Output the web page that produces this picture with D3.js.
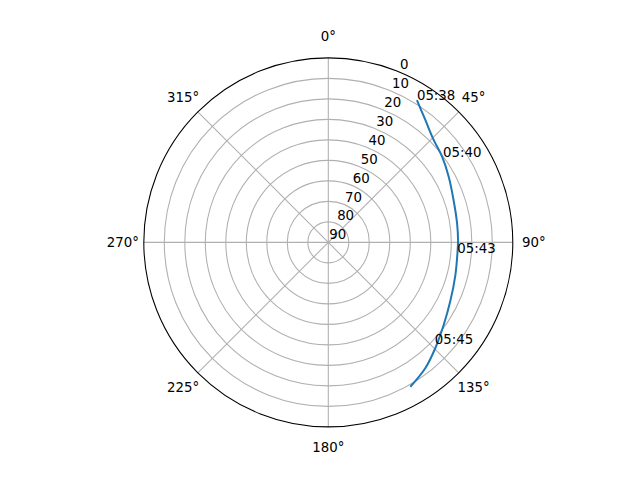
<!DOCTYPE html>
<html>
<head>
<meta charset="utf-8">
<script src="https://cdn.jsdelivr.net/npm/d3@7"></script>
<style>
	html, body { margin: 0; padding: 0; background: #fff; }
	text { font-family: "DejaVu Sans", sans-serif; font-size: 13.33px; fill: #000; }
</style>
</head>
<body>
<div id="chart"></div>
<script>
//	Satellite pass, azimuth (deg, clockwise from north) and elevation (deg)
var trackAz = [31.9, 38.4, 45.8, 53.0, 61.4, 71.3, 81.6, 88.9, 94.1, 104.4, 115.9, 125.6, 134.7, 142.4, 150.4];
var trackEl = [8.2, 13.8, 18.3, 20.5, 23.1, 25.5, 26.5, 26.7, 26.8, 26.0, 23.9, 20.8, 16.6, 12.5, 9.0];

//	Time marks along the pass
var markTimes = ["05:38", "05:40", "05:43", "05:45"];
var markAz = [31.9, 53.2, 94.6, 133.7];
var markEl = [8.2, 20.1, 26.9, 18.2];

//	Axis ticks
var thetaTicks = [0, 45, 90, 135, 180, 225, 270, 315];
var rTicks = [0, 10, 20, 30, 40, 50, 60, 70, 80, 90];

var W = 640, H = 480,
	cx = 328.3, cy = 242.4,
	R = 184.5;

var svg = d3.select("#chart")
	.append("svg")
	.attr("width", W)
	.attr("height", H)
	.attr("display", "block");

var g = svg.append("g")
	.attr("transform", "translate(" + cx + "," + cy + ")");

//	elevation 90 at centre, 0 at rim
var r = d3.scaleLinear().domain([90, 0]).range([0, R]);
var a = d3.scaleLinear().domain([0, 360]).range([0, 2 * Math.PI]);

function px(az, el) { return r(el) * Math.sin(a(az)); }
function py(az, el) { return -r(el) * Math.cos(a(az)); }

//	Grid circles
g.selectAll("circle.grid")
	.data(rTicks.filter(function(d) { return d > 0 && d < 90; }))
	.enter().append("circle")
	.attr("class", "grid")
	.attr("r", function(d) { return r(d); })
	.attr("fill", "none")
	.attr("stroke", "#b0b0b0")
	.attr("stroke-width", 1.07);

//	Spokes
g.selectAll("line.spoke")
	.data(thetaTicks)
	.enter().append("line")
	.attr("class", "spoke")
	.attr("x1", 0)
	.attr("y1", 0)
	.attr("x2", function(d) { return px(d, 0); })
	.attr("y2", function(d) { return py(d, 0); })
	.attr("stroke", "#b0b0b0")
	.attr("stroke-width", 1.07);

//	Track
var line = d3.lineRadial()
	.angle(function(d) { return a(d[0]); })
	.radius(function(d) { return r(d[1]); })
	.curve(d3.curveCatmullRom);

g.append("path")
	.datum(d3.zip(trackAz, trackEl))
	.attr("d", line)
	.attr("fill", "none")
	.attr("stroke", "#1f77b4")
	.attr("stroke-width", 2);

//	Outer spine
g.append("circle")
	.attr("r", R)
	.attr("fill", "none")
	.attr("stroke", "#000")
	.attr("stroke-width", 1.07);

//	Angle labels
g.selectAll("text.theta")
	.data(thetaTicks)
	.enter().append("text")
	.attr("class", "theta")
	.attr("x", function(d) { return (R + 21) * Math.sin(a(d)); })
	.attr("y", function(d) { return -(R + 21) * Math.cos(a(d)); })
	.attr("text-anchor", "middle")
	.attr("dominant-baseline", "central")
	.text(function(d) { return d + "°"; });

//	Radial labels at 22.5 deg
g.selectAll("text.rlab")
	.data(rTicks)
	.enter().append("text")
	.attr("class", "rlab")
	.attr("x", function(d) { return px(22.5, d) + 1; })
	.attr("y", function(d) { return py(22.5, d) - 3; })
	.text(function(d) { return d; });

//	Time marks
g.selectAll("text.mark")
	.data(d3.zip(markTimes, markAz, markEl))
	.enter().append("text")
	.attr("class", "mark")
	.attr("x", function(d) { return px(d[1], d[2]); })
	.attr("y", function(d) { return py(d[1], d[2]); })
	.text(function(d) { return d[0]; });
</script>
</body>
</html>
